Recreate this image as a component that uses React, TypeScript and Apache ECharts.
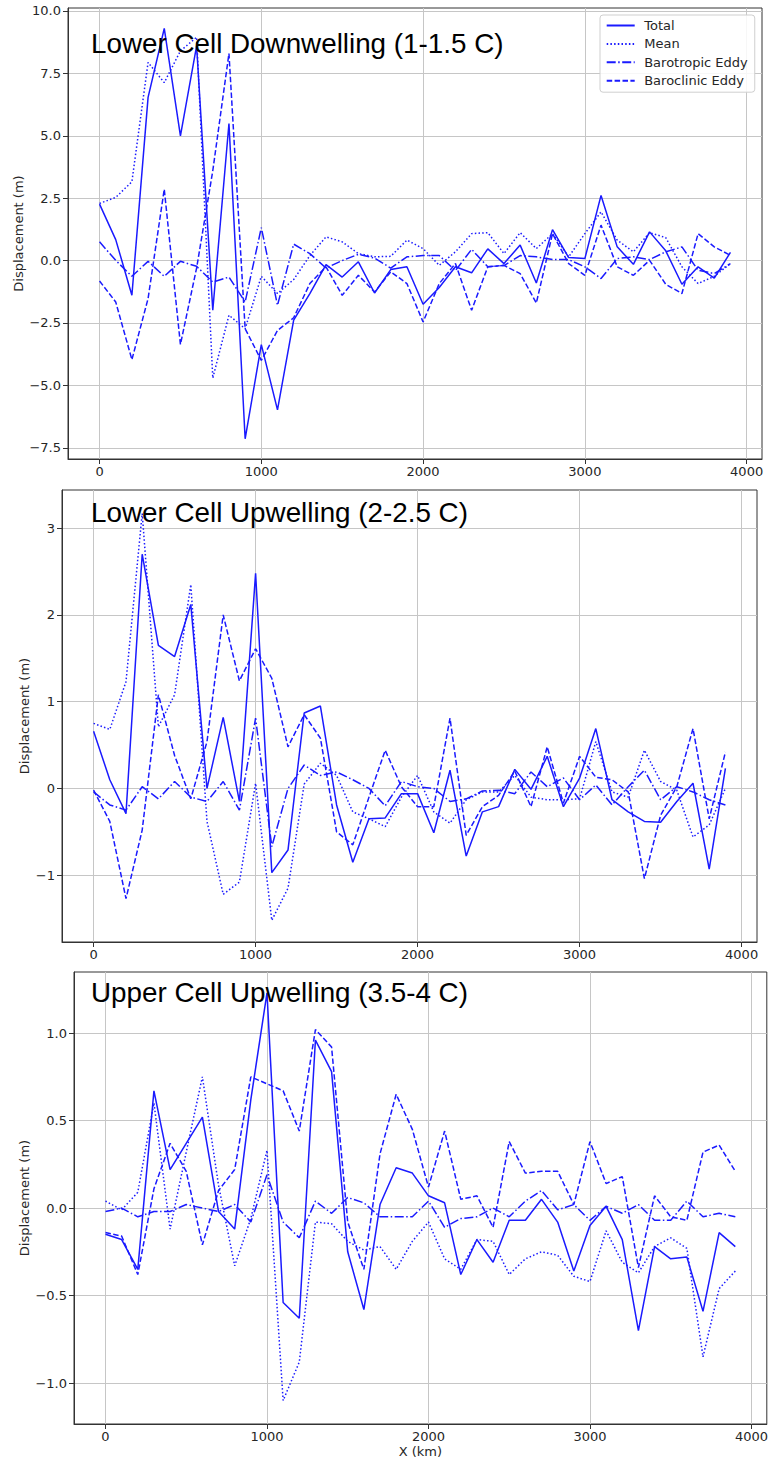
import React, { useEffect, useRef } from 'react';
import * as echarts from 'echarts';

const X_KM = [0, 100, 200, 300, 400, 500, 600, 700, 800, 900, 1000, 1100, 1200, 1300, 1400, 1500, 1600, 1700, 1800, 1900, 2000, 2100, 2200, 2300, 2400, 2500, 2600, 2700, 2800, 2900, 3000, 3100, 3200, 3300, 3400, 3500, 3600, 3700, 3800, 3900];

const SERIES_NAMES = ['Total', 'Mean', 'Barotropic Eddy', 'Baroclinic Eddy'];

const TITLES = ['Lower Cell Downwelling (1-1.5 C)', 'Lower Cell Upwelling (2-2.5 C)', 'Upper Cell Upwelling (3.5-4 C)'];

// Panel 1: Lower Cell Downwelling
const TOTAL_1 = [2.26, 0.84, -1.39, 6.54, 9.3, 5.0, 8.6, -1.99, 5.49, -7.14, -3.37, -5.98, -2.39, -1.32, -0.16, -0.66, -0.05, -1.3, -0.36, -0.25, -1.75, -1.08, -0.25, -0.49, 0.47, -0.12, 0.62, -0.9, 1.24, 0.12, 0.08, 2.61, 0.55, -0.15, 1.15, 0.39, -0.95, -0.25, -0.7, 0.33];
const MEAN_1 = [2.29, 2.53, 3.16, 7.94, 7.13, 8.4, 8.95, -4.71, -2.19, -2.73, -0.63, -1.32, -0.76, 0.2, 0.95, 0.75, 0.28, 0.15, 0.17, 0.82, 0.48, -0.19, 0.35, 1.08, 1.12, 0.28, 1.12, 0.48, 1.08, 0.15, 1.08, 1.95, 0.82, 0.35, 1.12, 0.92, -0.25, -0.92, -0.63, -0.12];
const BAROTROPIC_1 = [0.75, 0.01, -0.63, -0.03, -0.63, -0.03, -0.23, -0.86, -0.66, -1.66, 1.32, -1.79, 0.66, 0.28, -0.3, 0.0, 0.25, 0.1, -0.3, 0.15, 0.2, 0.2, -0.4, 0.45, -0.25, -0.2, 0.2, 0.15, 0.04, 0.04, -0.25, -0.72, 0.08, 0.15, 0.04, 0.35, 0.55, -0.39, -0.52, -0.12];
const BAROCLINIC_1 = [-0.82, -1.66, -3.97, -1.52, 2.86, -3.36, -0.3, 3.6, 8.3, -2.73, -4.0, -2.8, -2.29, -0.92, -0.25, -1.39, -0.59, -1.26, -0.45, -0.92, -2.46, -0.92, -0.12, -1.99, -0.25, -0.19, -0.52, -1.7, 1.08, -0.12, -0.59, 1.42, -0.25, -0.59, 0.01, -0.95, -1.32, 1.08, 0.55, 0.21];

// Panel 2: Lower Cell Upwelling
const TOTAL_2 = [0.66, 0.1, -0.29, 2.7, 1.65, 1.52, 2.12, 0.0, 0.82, -0.15, 2.48, -0.97, -0.71, 0.87, 0.95, -0.19, -0.85, -0.35, -0.34, -0.06, -0.06, -0.51, 0.21, -0.78, -0.27, -0.21, 0.22, -0.01, 0.37, -0.21, 0.12, 0.69, -0.13, -0.27, -0.38, -0.39, -0.15, 0.06, -0.93, 0.23];
const MEAN_2 = [0.75, 0.68, 1.23, 3.17, 0.71, 1.08, 2.35, -0.38, -1.22, -1.08, 0.06, -1.52, -1.15, 0.05, 0.29, 0.15, -0.27, -0.35, -0.44, -0.1, 0.15, -0.27, -0.4, -0.13, -0.04, -0.04, 0.15, -0.1, -0.13, -0.13, -0.12, 0.54, -0.04, -0.1, 0.44, 0.08, -0.02, -0.56, -0.42, 0.0];
const BAROTROPIC_2 = [-0.04, -0.19, -0.25, 0.02, -0.12, 0.08, -0.1, -0.15, 0.08, -0.25, 0.81, -0.67, 0.0, 0.27, 0.15, 0.19, 0.1, 0.0, -0.2, 0.08, 0.02, 0.0, -0.15, -0.12, -0.03, -0.02, -0.06, 0.19, 0.02, 0.12, -0.13, 0.04, -0.19, 0.02, 0.21, -0.13, 0.02, -0.04, -0.13, -0.19];
const BAROCLINIC_2 = [-0.02, -0.38, -1.27, -0.48, 1.08, 0.38, -0.12, 0.54, 2.0, 1.24, 1.61, 1.27, 0.48, 0.85, 0.58, -0.5, -0.65, -0.1, 0.44, 0.02, -0.21, -0.21, 0.81, -0.54, -0.21, -0.08, 0.2, -0.21, 0.48, -0.17, 0.37, 0.13, 0.1, -0.04, -1.04, -0.31, 0.02, 0.69, -0.35, 0.42];

// Panel 3: Upper Cell Upwelling
const TOTAL_3 = [-0.15, -0.18, -0.35, 0.67, 0.22, 0.37, 0.52, -0.02, -0.12, 0.62, 1.23, -0.54, -0.63, 0.96, 0.78, -0.25, -0.58, 0.02, 0.23, 0.2, 0.07, 0.03, -0.38, -0.18, -0.31, -0.07, -0.07, 0.05, -0.08, -0.36, -0.1, 0.01, -0.18, -0.7, -0.22, -0.29, -0.28, -0.59, -0.14, -0.22];
const MEAN_3 = [0.04, -0.01, 0.09, 0.6, -0.12, 0.32, 0.75, 0.13, -0.33, -0.06, 0.33, -1.1, -0.88, -0.08, -0.09, -0.19, -0.24, -0.22, -0.35, -0.19, -0.08, -0.29, -0.35, -0.18, -0.19, -0.38, -0.29, -0.25, -0.27, -0.39, -0.42, -0.13, -0.31, -0.37, -0.22, -0.17, -0.23, -0.85, -0.46, -0.36];
const BAROTROPIC_3 = [-0.02, 0.0, -0.05, -0.02, -0.02, 0.02, 0.0, -0.02, 0.02, -0.08, 0.19, -0.08, -0.17, 0.04, -0.03, 0.06, 0.03, -0.05, -0.05, -0.05, 0.04, -0.11, -0.06, -0.05, 0.0, -0.05, 0.04, 0.1, -0.01, 0.02, -0.07, 0.01, -0.03, 0.02, -0.07, -0.07, 0.04, -0.05, -0.03, -0.05];
const BAROCLINIC_3 = [-0.14, -0.16, -0.38, 0.11, 0.37, 0.21, -0.21, 0.1, 0.22, 0.75, 0.71, 0.67, 0.44, 1.02, 0.92, -0.08, -0.35, 0.31, 0.65, 0.45, 0.12, 0.44, 0.05, 0.07, -0.11, 0.38, 0.2, 0.21, 0.21, 0.02, 0.38, 0.14, 0.18, -0.34, 0.07, -0.05, -0.07, 0.32, 0.36, 0.21];

const X_TICKS = [0, 1000, 2000, 3000, 4000];
const Y_TICKS_1 = [-7.5, -5, -2.5, 0, 2.5, 5, 7.5, 10];
const Y_TICKS_2 = [-1, 0, 1, 2, 3];
const Y_TICKS_3 = [-1, -0.5, 0, 0.5, 1];

const PANEL_DATA = [
  [TOTAL_1, MEAN_1, BAROTROPIC_1, BAROCLINIC_1],
  [TOTAL_2, MEAN_2, BAROTROPIC_2, BAROCLINIC_2],
  [TOTAL_3, MEAN_3, BAROTROPIC_3, BAROCLINIC_3],
];

const LINE_COLOR = '#1a1aff';
const LINE_TYPES: any[] = ['solid', [1.5, 2.2], [9, 2.5, 1.5, 2.5], [5.5, 2.4]];

const minus = (s: string) => s.replace('-', '\u2212');

const PANELS = [
  { grid: { left: 68, top: 8, width: 694, height: 451 }, yMin: -7.95, yMax: 10.12, yTicks: Y_TICKS_1, fmt: (v: number) => minus(v.toFixed(1)), nameGap: 43, titleY: 43.8 },
  { grid: { left: 62, top: 490, width: 695, height: 452 }, yMin: -1.77, yMax: 3.44, yTicks: Y_TICKS_2, fmt: (v: number) => minus(v.toFixed(0)), nameGap: 31, titleY: 512.8 },
  { grid: { left: 74, top: 972, width: 695, height: 452 }, yMin: -1.234, yMax: 1.349, yTicks: Y_TICKS_3, fmt: (v: number) => minus(v.toFixed(1)), nameGap: 43, titleY: 992.2 },
];

const TICK_FONT = { fontSize: 13, fontFamily: 'DejaVu Sans', color: '#262626' };

export default function App() {
  const ref = useRef<HTMLDivElement>(null);
  useEffect(() => {
    if (!ref.current) return;
    const chart = echarts.init(ref.current, undefined, { renderer: 'svg' });
    const grids: any[] = [];
    const xAxes: any[] = [];
    const yAxes: any[] = [];
    const series: any[] = [];
    const graphics: any[] = [];
    PANELS.forEach((p, i) => {
      grids.push({ ...p.grid, show: true, borderColor: '#333', borderWidth: 1, containLabel: false });
      xAxes.push({
        gridIndex: i,
        type: 'value',
        min: -195,
        max: 4095,
        axisLine: { show: true, onZero: false, lineStyle: { color: '#333', width: 1 } },
        axisTick: { show: true, length: 5, customValues: X_TICKS, lineStyle: { color: '#333' } },
        axisLabel: { ...TICK_FONT, margin: 6, customValues: X_TICKS, formatter: (v: number) => String(v) },
        splitLine: { show: true, lineStyle: { color: '#c6c6c6', width: 1 } },
        name: i === 2 ? 'X (km)' : '',
        nameLocation: 'middle',
        nameGap: 21,
        nameMoveOverlap: false,
        nameTextStyle: { ...TICK_FONT },
      });
      yAxes.push({
        gridIndex: i,
        type: 'value',
        min: p.yMin,
        max: p.yMax,
        axisLine: { show: true, onZero: false, lineStyle: { color: '#333', width: 1 } },
        axisTick: { show: true, length: 5, customValues: p.yTicks, lineStyle: { color: '#333' } },
        axisLabel: { ...TICK_FONT, margin: 7, customValues: p.yTicks, formatter: p.fmt },
        splitLine: { show: true, lineStyle: { color: '#c6c6c6', width: 1 } },
        name: 'Displacement (m)',
        nameLocation: 'middle',
        nameGap: p.nameGap,
        nameMoveOverlap: false,
        nameTextStyle: { ...TICK_FONT },
      });
      PANEL_DATA[i].forEach((vals, k) => {
        series.push({
          name: SERIES_NAMES[k],
          type: 'line',
          xAxisIndex: i,
          yAxisIndex: i,
          symbol: 'none',
          showSymbol: false,
          data: X_KM.map((x, j) => [x, vals[j]]),
          lineStyle: { color: LINE_COLOR, width: 1.5, type: LINE_TYPES[k] },
          itemStyle: { color: LINE_COLOR },
          z: 3,
        });
      });
      graphics.push({
        type: 'text',
        x: 91,
        y: p.titleY,
        z: 10,
        style: { text: TITLES[i], font: '27.8px "Liberation Sans", Arial, sans-serif', fill: '#000', verticalAlign: 'middle', align: 'left' },
      });
    });
    chart.setOption({
      animation: false,
      backgroundColor: '#fff',
      grid: grids,
      xAxis: xAxes,
      yAxis: yAxes,
      series,
      graphic: graphics,
      legend: {
        show: true,
        left: 600,
        top: 15,
        orient: 'vertical',
        data: SERIES_NAMES,
        selectedMode: false,
        itemWidth: 28,
        itemHeight: 14,
        itemGap: 5.4,
        padding: [4, 7, 5, 5.7],
        borderColor: '#cfcfcf',
        borderWidth: 1,
        borderRadius: 3,
        backgroundColor: 'rgba(255,255,255,0.85)',
        itemStyle: { opacity: 0 },
        textStyle: { ...TICK_FONT, padding: [0, 0, 0, 4.5] },
      },
    });
    return () => chart.dispose();
  }, []);
  return <div ref={ref} style={{ position: 'absolute', left: 0, top: 0, width: 771, height: 1462 }} />;
}
